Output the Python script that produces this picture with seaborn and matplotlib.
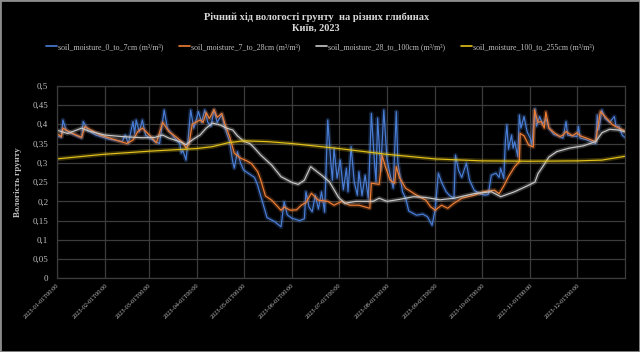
import pandas as pd
import matplotlib.pyplot as plt
import matplotlib.patheffects as pe
from matplotlib.lines import Line2D
from matplotlib.patches import Rectangle
from matplotlib.ticker import FuncFormatter, MultipleLocator
import seaborn as sns

START = pd.Timestamp('2023-01-01')

# день року (0 = 1 січня) і вологість, m³/m³
d_0_7 = [0, 3, 4, 6, 10, 16, 17, 20, 25, 33, 42, 44, 46, 49, 50, 51, 53, 55, 57, 63, 66, 69, 71, 75,
         79, 80, 81, 83, 84, 86, 88, 91, 93, 95, 97, 99, 101, 103, 106, 108, 111, 113, 114, 116, 118,
         120, 124, 127, 129, 132, 135, 140, 144, 146, 148, 151, 156, 159, 160, 162, 164, 166, 168,
         170, 172, 174, 176, 177, 178, 180, 182, 184, 186, 187, 189, 191, 193, 194, 196, 198, 200,
         202, 204, 205, 206, 208, 210, 212, 214, 216, 218, 219, 222, 224, 226, 231, 235, 238, 241,
         243, 245, 247, 250, 252, 255, 256, 258, 260, 263, 265, 268, 271, 275, 277, 279, 282, 284,
         285, 287, 288, 289, 290, 292, 293, 294, 295, 296, 297, 298, 300, 302, 304, 305, 307, 308,
         310, 312, 314, 316, 319, 322, 325, 327, 328, 331, 334, 335, 336, 340, 346, 347, 348, 350,
         352, 355, 358, 359, 361, 363, 365]
v_0_7 = [0.370, 0.366, 0.411, 0.385, 0.375, 0.364, 0.407, 0.385, 0.372, 0.362, 0.355, 0.372, 0.350,
         0.407, 0.375, 0.411, 0.380, 0.411, 0.372, 0.355, 0.350, 0.437, 0.390, 0.368, 0.350, 0.325,
         0.332, 0.307, 0.345, 0.437, 0.390, 0.433, 0.405, 0.437, 0.405, 0.395, 0.437, 0.405, 0.425,
         0.390, 0.355, 0.303, 0.286, 0.329, 0.300, 0.281, 0.270, 0.262, 0.242, 0.200, 0.158, 0.147,
         0.134, 0.199, 0.165, 0.156, 0.150, 0.155, 0.225, 0.185, 0.173, 0.216, 0.180, 0.225, 0.172,
         0.411, 0.300, 0.255, 0.338, 0.260, 0.307, 0.230, 0.286, 0.225, 0.342, 0.250, 0.216, 0.277,
         0.215, 0.268, 0.208, 0.428, 0.300, 0.250, 0.416, 0.280, 0.437, 0.310, 0.270, 0.234, 0.433,
         0.300, 0.225, 0.208, 0.175, 0.164, 0.167, 0.160, 0.138, 0.180, 0.273, 0.250, 0.225, 0.216,
         0.208, 0.320, 0.280, 0.262, 0.299, 0.255, 0.229, 0.221, 0.216, 0.218, 0.268, 0.273, 0.262,
         0.286, 0.259, 0.355, 0.398, 0.335, 0.372, 0.338, 0.355, 0.335, 0.316, 0.424, 0.390, 0.420,
         0.380, 0.364, 0.345, 0.440, 0.395, 0.420, 0.400, 0.415, 0.390, 0.374, 0.370, 0.364, 0.407,
         0.372, 0.370, 0.368, 0.394, 0.364, 0.360, 0.350, 0.424, 0.385, 0.437, 0.415, 0.405, 0.420,
         0.395, 0.395, 0.372, 0.365]

d_7_28 = [0, 3, 4, 8, 16, 18, 22, 28, 38, 45, 49, 52, 55, 60, 64, 68, 72, 77, 81, 83, 85, 87, 92,
          94, 96, 98, 101, 103, 106, 108, 111, 114, 118, 122, 125, 129, 131, 134, 138, 144, 146, 150,
          154, 157, 160, 163.5, 168, 174, 178, 183, 188, 194, 201, 202, 207, 209, 211, 214, 217, 218,
          220, 224, 231, 237, 240, 243, 247, 251, 255, 260, 268, 274, 281, 284, 287, 290, 294, 297,
          297.5, 300, 303, 306, 306.7, 309, 311, 313, 314, 316, 320, 323, 325, 327, 331, 334, 336,
          340, 346, 349, 352, 355, 357, 361, 365]
v_7_28 = [0.376, 0.368, 0.390, 0.380, 0.366, 0.394, 0.385, 0.372, 0.359, 0.350, 0.359, 0.381, 0.390,
          0.370, 0.352, 0.405, 0.381, 0.366, 0.352, 0.338, 0.350, 0.400, 0.411, 0.405, 0.430, 0.415,
          0.438, 0.418, 0.428, 0.400, 0.368, 0.325, 0.312, 0.305, 0.298, 0.277, 0.255, 0.214, 0.203,
          0.177, 0.185, 0.177, 0.178, 0.190, 0.197, 0.221, 0.203, 0.200, 0.190, 0.200, 0.190, 0.190,
          0.182, 0.247, 0.244, 0.318, 0.290, 0.255, 0.247, 0.290, 0.262, 0.234, 0.216, 0.203, 0.186,
          0.177, 0.190, 0.182, 0.195, 0.208, 0.216, 0.225, 0.229, 0.220, 0.240, 0.264, 0.290, 0.303,
          0.376, 0.370, 0.346, 0.341, 0.437, 0.405, 0.407, 0.390, 0.432, 0.390, 0.376, 0.368, 0.372,
          0.381, 0.370, 0.378, 0.370, 0.364, 0.355, 0.433, 0.420, 0.407, 0.398, 0.390, 0.382]

d_28_100 = [0, 7, 16, 20, 31, 42, 55, 63, 68, 72, 79, 83, 88, 92, 96, 100, 105, 109, 113, 116, 120,
            124, 127, 131, 138, 144, 151, 155, 159, 163, 170, 175, 181, 185, 192, 203, 207, 212, 220,
            229, 237, 246, 255, 268, 279, 285, 294, 302, 307, 309, 312, 316, 321, 329, 338, 346, 350,
            355, 361, 365]
v_28_100 = [0.385, 0.376, 0.390, 0.383, 0.372, 0.368, 0.365, 0.366, 0.372, 0.364, 0.355, 0.347,
            0.362, 0.372, 0.390, 0.403, 0.398, 0.390, 0.385, 0.370, 0.356, 0.350, 0.338, 0.320,
            0.294, 0.264, 0.249, 0.244, 0.255, 0.290, 0.268, 0.251, 0.210, 0.195, 0.200, 0.200,
            0.208, 0.200, 0.205, 0.212, 0.210, 0.204, 0.208, 0.220, 0.225, 0.212, 0.225, 0.240,
            0.250, 0.272, 0.290, 0.315, 0.329, 0.338, 0.344, 0.355, 0.378, 0.387, 0.385, 0.380]

d_100_255 = [0, 30, 59, 90, 100, 110, 120, 135, 151, 181, 212, 243, 273, 304, 334, 350, 365]
v_100_255 = [0.310, 0.322, 0.330, 0.337, 0.342, 0.352, 0.357, 0.355, 0.350, 0.337, 0.322, 0.310,
             0.305, 0.304, 0.305, 0.307, 0.317]

labels = ['soil_moisture_0_to_7cm (m³/m³)', 'soil_moisture_7_to_28cm (m³/m³)',
          'soil_moisture_28_to_100cm (m³/m³)', 'soil_moisture_100_to_255cm (m³/m³)']
colors = ['#4a7fd8', '#f07f35', '#c9c9c9', '#e3c21c']
month_ticks = pd.date_range('2023-01-01', '2023-12-01', freq='MS')

frames = []
for lab, d, v in zip(labels, [d_0_7, d_7_28, d_28_100, d_100_255],
                     [v_0_7, v_7_28, v_28_100, v_100_255]):
    frames.append(pd.DataFrame({'date': START + pd.to_timedelta(d, unit='D'),
                                'value': v, 'series': lab}))
df = pd.concat(frames, ignore_index=True)

sns.set_style('dark')
plt.rcParams['font.family'] = ['Liberation Serif', 'DejaVu Serif']

fig = plt.figure(figsize=(6.4, 3.52), dpi=100, facecolor='black')
ax = fig.add_axes([0.0886, 0.209, 0.8884, 0.5475])
ax.set_facecolor('black')

sns.lineplot(data=df, x='date', y='value', hue='series', hue_order=labels,
             palette=dict(zip(labels, colors)), estimator=None, sort=False,
             linewidth=0.85, legend=False, ax=ax)

# ефект світіння як в Excel
for line in ax.lines:
    c = line.get_color()
    line.set_path_effects([pe.Stroke(linewidth=3.2, foreground=c, alpha=0.25), pe.Normal()])

ax.set_xlim(START, START + pd.Timedelta(days=365))
ax.set_ylim(0, 0.5)
ax.set_xticks(month_ticks)
ax.set_xticklabels([t.strftime('%Y-%m-%dT%H:%M') for t in month_ticks])
ax.yaxis.set_major_locator(MultipleLocator(0.05))
ax.yaxis.set_major_formatter(FuncFormatter(
    lambda v, p: ('%.2f' % v).rstrip('0').rstrip('.').replace('.', ',')))

ax.grid(True, color='#3c3c3c', linewidth=0.9)
for s in ax.spines.values():
    s.set_color('#3c3c3c')
    s.set_linewidth(0.9)
ax.tick_params(axis='both', length=0, colors='#bfbfbf')
ax.tick_params(axis='y', labelsize=6.5, pad=6)
ax.tick_params(axis='x', labelsize=4.6, pad=3)
for t in ax.get_xticklabels():
    t.set_rotation(45)
    t.set_ha('right')
    t.set_rotation_mode('anchor')

ax.set_xlabel('')
ax.set_ylabel('Вологість грунту', fontsize=6.5, fontweight='bold', color='#bfbfbf', labelpad=8)

fig.text(0.494, 0.951, 'Річний хід вологості грунту  на різних глибинах', ha='center', va='center',
         fontsize=7.5, fontweight='bold', color='#d9d9d9')
fig.text(0.494, 0.920, 'Київ, 2023', ha='center', va='center',
         fontsize=7.5, fontweight='bold', color='#d9d9d9')

handles = [Line2D([], [], color=c, linewidth=1.2) for c in colors]
fig.legend(handles, labels, loc='center', bbox_to_anchor=(0.5, 0.866), ncol=4, frameon=False,
           fontsize=5.75, handlelength=1.4, handletextpad=0.1, columnspacing=2.0,
           labelcolor='#bfbfbf')

fig.patches.append(Rectangle((0, 0), 1, 1, transform=fig.transFigure, fill=False,
                             edgecolor='#8c8c8c', linewidth=2))

fig.savefig('out.png', dpi=100, facecolor='black')
